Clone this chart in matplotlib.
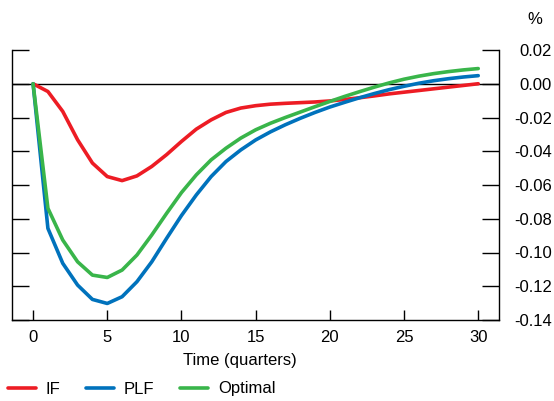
import numpy as np
import matplotlib
matplotlib.use("Agg")
import matplotlib.pyplot as plt

plt.rcParams['font.family'] = ['Liberation Sans', 'DejaVu Sans']
plt.rcParams['axes.unicode_minus'] = False

# quarters after the shock
quarters = np.arange(31)

# impulse responses (%)
if_path = [0.0, -0.0046, -0.0164, -0.0332, -0.0470, -0.0550, -0.0574, -0.0546,
           -0.0490, -0.0420, -0.0342, -0.0269, -0.0214, -0.0170, -0.0144, -0.0130,
           -0.0121, -0.0116, -0.0112, -0.0108, -0.0102, -0.0093, -0.0083, -0.0072,
           -0.0060, -0.0050, -0.0040, -0.0030, -0.0020, -0.0010, 0.0000]
plf_path = [0.0, -0.0857, -0.1064, -0.1193, -0.1278, -0.1302, -0.1262, -0.1173,
            -0.1055, -0.0916, -0.0781, -0.0659, -0.0550, -0.0461, -0.0392, -0.0333,
            -0.0285, -0.0243, -0.0205, -0.0170, -0.0138, -0.0110, -0.0083, -0.0058,
            -0.0035, -0.0015, 0.0003, 0.0018, 0.0030, 0.0040, 0.0048]
opt_path = [0.0, -0.0738, -0.0926, -0.1055, -0.1134, -0.1148, -0.1104, -0.1015,
            -0.0896, -0.0768, -0.0645, -0.0540, -0.0451, -0.0382, -0.0322, -0.0273,
            -0.0234, -0.0200, -0.0168, -0.0136, -0.0105, -0.0075, -0.0047, -0.0020,
            0.0005, 0.0027, 0.0045, 0.0060, 0.0072, 0.0082, 0.0090]

series_names = ['IF', 'PLF', 'Optimal']
series_colors = ['#ED1C24', '#0072BC', '#39B54A']

x_ticks = [0, 5, 10, 15, 20, 25, 30]
y_ticks = [0.02, 0.00, -0.02, -0.04, -0.06, -0.08, -0.10, -0.12, -0.14]

W, H = 554, 401
fs = 12
fig = plt.figure(figsize=(W / 100, H / 100), dpi=100)
ax = fig.add_axes([12 / W, 1 - 320 / H, (499 - 12) / W, (320 - 50) / H])

ax.axhline(0, color='black', lw=1.0, zorder=1)
for data, name, col in zip([if_path, plf_path, opt_path], series_names, series_colors):
    ax.plot(quarters, data, color=col, lw=2.6, label=name, solid_capstyle='round', zorder=2)

ax.set_xlim(-1.42, 31.4)
ax.set_ylim(-0.14, 0.02)

ax.spines['top'].set_visible(False)
for s in ['left', 'right', 'bottom']:
    ax.spines[s].set_linewidth(1.0)

ax.set_xticks(x_ticks)
ax.set_xticklabels([str(t) for t in x_ticks])
ax.set_yticks(y_ticks)
ax.set_yticklabels(['%.2f' % v for v in y_ticks])
ax.tick_params(axis='x', direction='in', length=7, width=1, pad=7, labelsize=fs)
ax.tick_params(axis='y', direction='in', length=12, width=1, left=True, right=True,
               labelleft=False, labelright=True, pad=38, labelsize=fs)
for lab in ax.get_yticklabels():
    lab.set_horizontalalignment('right')

fig.text(240 / W, 1 - 361 / H, 'Time (quarters)', ha='center', va='center', fontsize=fs)
fig.text(535 / W, 1 - 19 / H, '%', ha='center', va='center', fontsize=fs)

fig.legend(loc='center left', bbox_to_anchor=(0, 1 - 389 / H), ncol=3, frameon=False,
           fontsize=fs, handlelength=1.65, handletextpad=0.6, columnspacing=1.55,
           borderaxespad=0, borderpad=0.5)

fig.savefig('out.png', dpi=100)
